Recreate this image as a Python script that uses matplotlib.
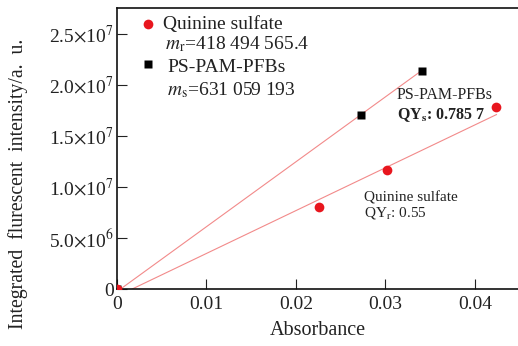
import numpy as np
import matplotlib.pyplot as plt
from matplotlib.ticker import FixedLocator, FixedFormatter

plt.rcParams['font.family'] = ['Liberation Serif', 'DejaVu Serif']
plt.rcParams['mathtext.fontset'] = 'stix'

# data
qs_abs = [0.0, 0.0226, 0.0302, 0.0424]
qs_int = [0.0, 8.0e6, 1.165e7, 1.78e7]
ps_abs = [0.0, 0.0273, 0.0341]
ps_int = [0.0, 1.705e7, 2.135e7]

# fitted lines (end points)
qs_fit_x = [0.0017, 0.0424]
qs_fit_y = [0.0, 1.71e7]
ps_fit_x = [0.0004, 0.0341]
ps_fit_y = [0.0, 2.145e7]

xticks = [0, 0.01, 0.02, 0.03, 0.04]
xlabels = ['0', '0.01', '0.02', '0.03', '0.04']
yticks = [0, 5e6, 1e7, 1.5e7, 2e7, 2.5e7]
ylabels = ['0', r'5.0$\times$10$^6$', r'1.0$\times$10$^7$', r'1.5$\times$10$^7$',
           r'2.0$\times$10$^7$', r'2.5$\times$10$^7$']

red = '#e8161e'
line_col = '#f28a8a'
txt = '#222222'

fig = plt.figure(figsize=(5.18, 3.46), dpi=100)
ax = fig.add_axes([117/518, 57/346, 401/518, 281/346])

ax.plot(qs_fit_x, qs_fit_y, color=line_col, lw=0.8)
ax.plot(ps_fit_x, ps_fit_y, color=line_col, lw=0.8)
ax.plot(ps_abs, ps_int, 's', color='black', ms=6, mec='none', zorder=3)
ax.plot(qs_abs, qs_int, 'o', color=red, ms=7, mec='none', zorder=4)

ax.set_xlim(0, 0.04481)
ax.set_ylim(0, 2.755e7)

ax.xaxis.set_major_locator(FixedLocator(xticks))
ax.xaxis.set_major_formatter(FixedFormatter(xlabels))
ax.yaxis.set_major_locator(FixedLocator(yticks))
ax.yaxis.set_major_formatter(FixedFormatter(ylabels))
ax.tick_params(direction='in', length=7, width=0.8, labelsize=14, colors=txt)
ax.tick_params(axis='x', pad=5)
ax.tick_params(axis='y', pad=2)
ax.spines['right'].set_visible(False)
for s in ['left', 'bottom', 'top']:
    ax.spines[s].set_linewidth(1.2)
    ax.spines[s].set_color('#111111')

ax.set_xlabel('Absorbance', fontsize=14.5, color=txt, labelpad=6)
ax.set_ylabel('Integrated  flurescent  intensity/a.  u.', fontsize=14.2, color=txt)
ax.yaxis.set_label_coords(-0.222, 0.374)

# legend block
tr = ax.transAxes
def ax_xy(px, py):
    return ((px - 117) / 401, (289 - py) / 281)

ax.plot(*ax_xy(148, 24), 'o', color=red, ms=7, mec='none', transform=tr, clip_on=False)
ax.text(*ax_xy(163, 24), 'Quinine sulfate', fontsize=14, color=txt, va='center', transform=tr)
ax.text(*ax_xy(165, 44), r'$m_{\mathrm{r}}$=418 494 565.4', fontsize=14, color=txt,
        va='center', transform=tr)
ax.plot(*ax_xy(148, 64), 's', color='black', ms=6, mec='none', transform=tr, clip_on=False)
ax.text(*ax_xy(167, 68), 'PS-PAM-PFBs', fontsize=14, color=txt, va='center', transform=tr)
ax.text(*ax_xy(167, 90), r'$m_{\mathrm{s}}$=631 059 193', fontsize=14, color=txt,
        va='center', transform=tr)

# annotations
ax.text(*ax_xy(397, 95), 'PS-PAM-PFBs', fontsize=11.5, color=txt, va='center', transform=tr)
ax.text(*ax_xy(397, 115), r'QY$_{\mathbf{s}}$: 0.785 7', fontsize=11.5, color=txt,
        fontweight='bold', va='center', transform=tr)
ax.text(*ax_xy(364, 198), 'Quinine sulfate', fontsize=11, color=txt, va='center', transform=tr)
ax.text(*ax_xy(364, 213), r'QY$_{\mathrm{r}}$: 0.55', fontsize=11, color=txt, va='center',
        transform=tr)

fig.savefig('out.png', dpi=100)
